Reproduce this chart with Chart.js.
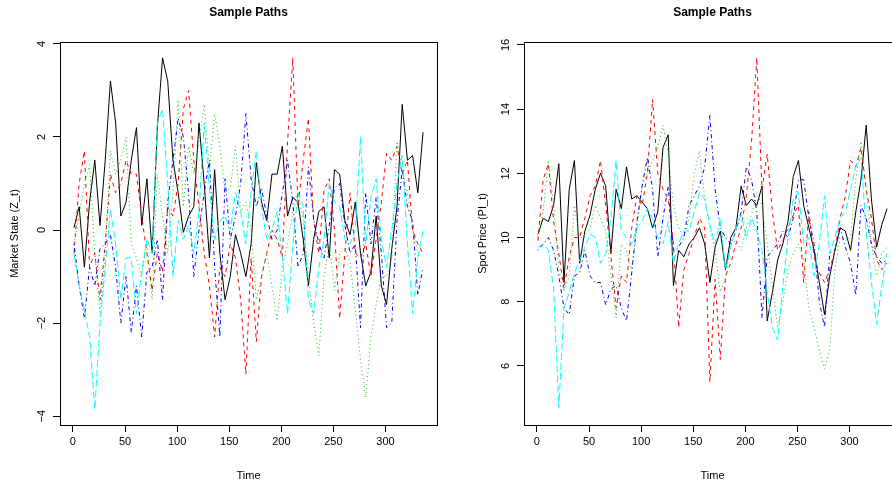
<!DOCTYPE html>
<html>
<head>
<meta charset="utf-8">
<script src="https://cdn.jsdelivr.net/npm/chart.js@4"></script>
<style>
  html, body { margin: 0; padding: 0; background: #fff; overflow: hidden; width: 892px; height: 486px; }
  canvas { position: absolute; top: 0; }
  #zChart { left: 0; }
  #pChart { left: 446px; }
</style>
</head>
<body>
<canvas id="zChart" width="446" height="486"></canvas>
<canvas id="pChart" width="464" height="486"></canvas>
<script>
// time grid (every 5th step of 1..336)
const times = [1,6,11,16,21,26,31,36,41,46,51,56,61,66,71,76,81,86,91,96,101,106,111,116,121,126,131,136,141,146,151,156,161,166,171,176,181,186,191,196,201,206,211,216,221,226,231,236,241,246,251,256,261,266,271,276,281,286,291,296,301,306,311,316,321,326,331,336];

const xTicks = [0, 50, 100, 150, 200, 250, 300];
const zTicks = [-4, -2, 0, 2, 4];
const pTicks = [6, 8, 10, 12, 14, 16];

// market state Z_t, one array per path
const zBlack = [0.05,0.5,-0.8,0.6,1.5,0.1,1.5,3.2,2.3,0.3,0.6,1.5,2.2,0.1,1.1,-0.5,2.2,3.7,3.2,1.5,0.8,-0.05,0.3,0.5,2.3,1.0,-0.6,1.3,-0.5,-1.5,-1.0,-0.1,-0.5,-1.0,-0.3,1.45,0.6,0.2,1.2,1.2,1.8,0.3,0.7,0.6,-0.2,-1.2,-0.2,0.4,0.5,-0.6,1.3,1.2,0.2,-0.1,0.6,-0.5,-1.2,-0.9,0.3,-1.2,-1.6,-0.4,0.5,2.7,1.5,1.6,0.8,2.1];
const zRed = [-0.5,1.0,1.7,-0.8,-0.5,-1.5,-0.3,1.2,0.8,1.0,1.5,1.2,1.2,0.3,-0.5,-1.3,-0.5,-0.9,0.5,0.3,1.0,2.6,3.0,1.5,0.5,-0.5,-1.2,-2.3,-0.8,-1.0,-0.3,-0.6,-1.5,-3.1,-0.6,-2.4,-1.0,-0.5,0.0,-0.2,-0.6,1.9,3.7,0.5,1.5,2.4,0.2,-0.5,0.85,1.1,0.0,-1.9,-0.5,0.8,-0.5,-0.6,-0.3,-1.0,-0.2,0.6,1.65,1.5,1.8,1.2,1.5,0.0,-0.3,-0.5];
const zGreen = [-0.3,0.3,1.0,1.4,-0.5,-1.8,-0.5,1.7,1.2,1.5,2.0,-0.3,-0.6,-1.0,-0.2,-1.5,1.2,0.3,-0.5,0.8,2.8,0.5,1.8,1.2,1.9,2.7,1.3,2.5,1.8,0.8,0.9,1.8,0.4,0.6,0.0,-1.5,-1.0,-0.5,-1.2,-1.95,-0.8,-0.3,0.4,0.8,0.2,-1.0,-2.0,-2.7,-1.0,-0.3,-1.3,-0.5,-0.4,-0.7,-1.7,-2.8,-3.6,-2.3,-1.6,-1.0,-1.0,-0.6,1.9,1.3,0.8,0.0,-0.5,-0.4];
const zBlue = [-0.3,-1.2,-1.9,-0.8,-1.2,-0.4,-0.3,-0.1,-0.8,-2.0,-1.0,-2.2,-1.2,-2.3,-0.9,-0.8,-0.2,-1.5,0.6,1.5,2.4,2.0,0.8,-1.0,0.0,0.8,1.5,-0.8,-2.3,1.1,-0.2,0.3,1.0,2.5,1.1,0.5,0.9,0.3,-0.2,0.0,0.8,1.5,0.6,-0.8,-0.5,1.35,0.25,-0.3,-0.6,0.1,0.9,1.0,0.1,-0.5,-0.3,-2.1,0.8,-0.3,0.7,-0.5,-2.1,-2.0,0.2,1.3,0.5,0.2,-1.4,-0.8];
const zCyan = [-0.5,-1.2,-1.7,-2.3,-3.85,-2.0,-0.8,0.45,-0.3,-1.5,-0.6,-0.6,-1.8,-0.9,-0.2,-0.5,2.3,2.6,1.0,-1.0,0.2,-0.2,0.1,-0.5,0.4,2.3,0.9,-0.2,0.2,0.3,0.0,0.8,0.4,-0.3,0.8,1.7,0.5,-0.2,0.0,0.4,-0.6,-1.8,-0.3,0.8,0.5,-1.5,-1.8,-0.8,-0.2,1.0,0.6,0.5,-0.2,-0.3,0.0,2.0,-0.3,0.7,1.1,-0.2,-0.8,0.0,1.0,1.6,-0.3,-1.8,-0.6,0.0];

// spot price PI_t, one array per path
const pBlack = [10.1,10.6,10.5,11.0,12.3,8.6,11.5,12.4,9.2,10.2,10.7,11.5,12.0,11.6,9.5,11.5,10.9,12.2,11.2,11.3,11.1,10.9,10.3,10.8,12.8,13.2,8.5,9.6,9.4,9.8,10.0,10.3,9.8,8.6,9.7,10.2,9.0,10.0,10.3,11.6,11.0,11.2,11.0,11.6,7.4,8.3,9.3,9.8,10.5,11.9,12.4,11.0,10.3,9.6,8.6,7.6,8.8,9.6,10.3,10.2,9.6,10.8,11.8,13.5,11.2,9.7,10.4,10.9];
const pRed = [9.9,11.8,12.3,10.5,9.5,8.4,9.4,10.0,10.0,10.6,11.3,11.6,12.4,11.0,9.4,7.8,8.8,8.6,10.3,11.3,11.0,12.0,14.3,12.0,11.5,11.2,9.8,7.2,9.0,9.5,10.0,10.6,10.3,5.5,8.7,6.2,8.8,9.2,9.8,10.3,11.3,13.0,15.6,11.5,12.6,10.8,9.6,9.9,10.3,10.7,11.0,8.6,10.8,9.4,8.9,8.6,9.0,9.6,10.6,11.3,12.4,12.2,12.8,11.5,10.6,9.3,9.0,9.2];
const pGreen = [10.0,10.8,12.4,11.0,9.0,8.3,8.8,11.0,10.0,10.0,10.3,11.0,10.6,10.2,8.8,7.5,9.8,9.6,9.0,10.3,11.6,12.0,12.4,12.8,13.5,12.6,11.0,10.3,10.0,10.6,12.0,12.7,11.2,10.3,9.6,8.3,8.7,9.8,9.9,9.6,10.3,10.7,11.4,11.0,9.8,8.5,7.2,8.0,9.0,9.5,9.8,9.3,7.8,7.2,6.5,5.9,6.5,9.0,10.0,9.9,10.0,11.8,13.0,11.5,9.8,8.8,9.5,9.7];
const pBlue = [9.6,9.8,10.0,9.6,8.8,7.8,7.6,8.8,8.9,9.6,8.8,8.6,8.6,7.9,8.4,8.5,7.8,7.4,8.9,10.5,11.6,12.5,11.5,9.4,10.6,11.6,9.6,9.7,10.0,11.0,11.3,11.6,12.2,13.8,11.5,10.3,10.0,9.8,10.2,10.8,12.2,11.8,10.8,7.5,9.4,9.6,9.8,10.2,10.0,10.6,11.8,11.8,10.6,9.8,8.0,7.2,9.5,9.6,10.3,9.7,9.2,8.2,11.0,10.6,9.8,9.4,9.2,9.3];
const pCyan = [9.7,9.8,9.6,8.4,4.7,7.8,8.3,8.9,9.3,9.7,10.1,10.0,9.2,9.5,10.6,12.4,10.2,10.0,9.8,10.3,10.5,10.9,10.6,10.0,9.8,10.5,9.2,9.8,10.2,10.2,10.8,11.4,11.2,10.4,9.8,10.6,9.0,9.7,10.3,10.7,10.0,10.6,10.2,9.6,8.3,7.2,6.8,8.5,10.0,11.2,11.4,9.8,10.0,8.8,9.8,11.3,9.5,10.0,10.6,10.8,11.5,12.2,12.5,10.2,8.6,7.3,8.5,9.5];

const FONT = "'Liberation Sans', Arial, Helvetica, sans-serif";
const colors = ['#000000', '#FF0000', '#00CD00', '#0000FF', '#00FFFF'];
const dashes = [[], [4, 4], [1, 3], [1, 3, 4, 3], [7, 3]];

function toPoints(values) {
  return values.map((v, i) => ({ x: times[i], y: v }));
}

function makeDatasets(seriesList) {
  return seriesList.map((s, i) => ({
    data: toPoints(s),
    borderColor: colors[i],
    borderWidth: 1,
    borderDash: dashes[i],
    pointRadius: 0,
    tension: 0,
    fill: false,
    order: seriesList.length - i   // later paths on top, like matplot
  }));
}

// box round the plot region and rotated y tick labels (R style)
const rFrame = {
  id: 'rFrame',
  afterDraw(chart, args, opts) {
    const { ctx, chartArea: a } = chart;
    const y = chart.scales.y;
    ctx.save();
    ctx.strokeStyle = '#000';
    ctx.lineWidth = 1;
    ctx.strokeRect(Math.round(a.left) + 0.5, Math.round(a.top) + 0.5,
      Math.round(a.right - a.left), Math.round(a.bottom - a.top));
    ctx.fillStyle = '#000';
    ctx.font = '11px ' + FONT;
    ctx.textAlign = 'center';
    ctx.textBaseline = 'middle';
    opts.ticks.forEach(v => {
      const py = y.getPixelForValue(v);
      ctx.save();
      ctx.translate(a.left - 18, py);
      ctx.rotate(-Math.PI / 2);
      ctx.fillText(v < 0 ? '\u2212' + Math.abs(v) : String(v), 0, 0);
      ctx.restore();
    });
    ctx.restore();
  }
};

function makeChart(id, seriesList, yMin, yMax, yTicks, yLabel, yWidth, yTitlePad) {
  return new Chart(document.getElementById(id), {
    type: 'line',
    data: { datasets: makeDatasets(seriesList) },
    options: {
      responsive: false,
      animation: false,
      events: [],
      layout: { padding: { top: 0, left: 0, right: 9, bottom: 0 } },
      plugins: {
        legend: { display: false },
        tooltip: { enabled: false },
        title: {
          display: true,
          text: 'Sample Paths',
          fullSize: false,
          color: '#000',
          font: { family: FONT, size: 12, weight: 'bold' },
          padding: { top: 5, bottom: 22.6 }
        },
        rFrame: { ticks: yTicks }
      },
      scales: {
        x: {
          type: 'linear',
          min: -12.4,
          max: 349.4,
          afterBuildTicks: s => { s.ticks = xTicks.map(v => ({ value: v })); },
          afterFit: s => { s.height = 61; },
          border: { display: false },
          grid: { drawOnChartArea: false, drawTicks: true, tickLength: 7, color: '#000' },
          ticks: { color: '#000', font: { family: FONT, size: 11 }, padding: 3, maxRotation: 0 },
          title: { display: true, text: 'Time', color: '#000', font: { family: FONT, size: 11 }, padding: { top: 0, bottom: 3 } }
        },
        y: {
          type: 'linear',
          min: yMin,
          max: yMax,
          afterBuildTicks: s => { s.ticks = yTicks.map(v => ({ value: v })); },
          afterFit: s => { s.width = yWidth; },
          border: { display: false },
          grid: { drawOnChartArea: false, drawTicks: true, tickLength: 7, color: '#000' },
          ticks: { display: false },
          title: { display: true, text: yLabel, color: '#000', font: { family: FONT, size: 11 }, padding: { top: yTitlePad, bottom: 0 } }
        }
      }
    },
    plugins: [rFrame]
  });
}

makeChart('zChart', [zBlack, zRed, zGreen, zBlue, zCyan], -4.19, 4.04, zTicks, 'Market State (Z_t)', 60, 8.4);
makeChart('pChart', [pBlack, pRed, pGreen, pBlue, pCyan], 4.16, 16.09, pTicks, 'Spot Price (PI_t)', 78, 30);
</script>
</body>
</html>
